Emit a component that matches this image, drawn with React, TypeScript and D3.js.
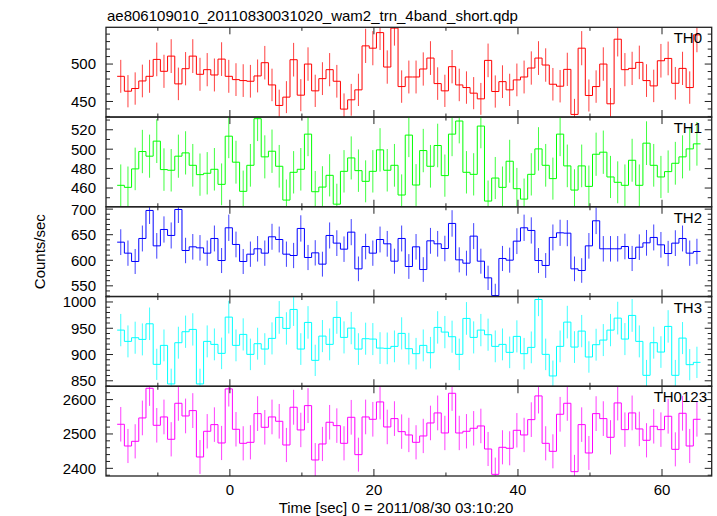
import React from 'react';
import * as d3 from 'd3';

const W = 717;
const H = 516;

// Time bins (1 s bins)
const BIN_START = -15.65;
const BIN_WIDTH = 1;
const X_DOMAIN = [-17.2, 66.9];
const X_TICK_LABELS = [0, 20, 40, 60];
const X_MINOR_STEP = 10;

const TITLE = 'ae806109010_20110830031020_wam2_trn_4band_short.qdp';
const X_LABEL = 'Time [sec] 0 = 2011/08/30 03:10:20';
const Y_LABEL = 'Counts/sec';

const PANEL_NAMES = ['TH0', 'TH1', 'TH2', 'TH3', 'TH0123'];
const PANEL_COLORS = ['#ff0000', '#00ff00', '#0000ff', '#00ffff', '#ff00ff'];

const th0 = [483.6, 463.7, 467.3, 477.4, 483.6, 506.2, 490.3, 510.6, 473.5, 493.8, 510.6, 486.3, 492.5, 485.4, 506.6, 483.6, 479.2, 477.9, 477.0, 484.1, 501.8, 472.1, 444.7, 455.8, 505.8, 458.4, 500.0, 464.2, 480.5, 492.5, 477.0, 439.8, 452.2, 465.5, 524.3, 521.2, 542.0, 496.0, 548.0, 469.9, 482.7, 482.7, 493.4, 508.0, 473.9, 464.2, 496.5, 472.1, 468.6, 461.1, 453.5, 504.9, 463.3, 476.5, 465.5, 478.8, 482.7, 494.7, 508.0, 498.7, 473.0, 470.4, 492.9, 432.7, 521.2, 458.0, 469.9, 500.0, 446.9, 533.2, 492.5, 494.2, 502.2, 477.9, 470.8, 504.4, 507.5, 474.3, 494.2, 468.6, 539.0];
const th1 = [462.8, 460.7, 479.7, 497.6, 492.8, 508.3, 479.0, 478.3, 492.8, 496.2, 483.4, 473.8, 475.2, 479.3, 463.8, 513.4, 486.6, 456.6, 483.4, 531.4, 492.1, 497.9, 482.4, 447.6, 476.2, 479.3, 515.5, 456.2, 461.0, 473.1, 443.4, 477.2, 491.0, 477.9, 466.9, 477.2, 499.3, 478.3, 483.4, 452.8, 514.5, 463.1, 498.6, 482.4, 503.8, 472.8, 515.5, 529.0, 476.2, 474.1, 523.8, 446.6, 470.3, 460.7, 487.6, 459.3, 448.6, 474.1, 500.3, 483.4, 469.7, 515.5, 482.8, 457.9, 482.8, 461.7, 494.8, 496.9, 471.4, 465.9, 462.8, 488.6, 462.8, 506.2, 483.4, 471.4, 476.9, 485.5, 492.1, 500.3, 505.5];
const th2 = [635.4, 613.9, 597.6, 642.6, 697.4, 628.2, 660.2, 648.5, 699.3, 619.1, 626.3, 624.3, 613.9, 642.6, 599.5, 663.5, 630.9, 597.6, 611.9, 622.4, 613.9, 645.9, 640.6, 611.9, 609.3, 662.2, 605.4, 614.5, 592.4, 648.5, 633.5, 621.7, 655.0, 583.2, 626.9, 613.9, 640.6, 632.2, 598.2, 642.6, 587.8, 626.3, 581.9, 638.0, 632.2, 623.0, 672.0, 600.8, 594.3, 647.2, 598.2, 565.6, 531.0, 603.5, 600.2, 637.4, 663.5, 658.3, 599.5, 589.8, 644.6, 653.7, 653.0, 583.2, 580.0, 628.2, 677.2, 622.4, 622.4, 622.4, 626.9, 603.5, 625.6, 634.1, 644.6, 630.2, 613.2, 633.5, 642.6, 613.9, 617.2];
const th3 = [946.5, 925.0, 932.0, 928.8, 958.5, 881.3, 917.4, 844.0, 922.5, 943.4, 947.8, 844.0, 925.0, 919.3, 902.2, 971.2, 917.4, 938.3, 900.3, 920.6, 910.4, 930.7, 970.6, 949.7, 985.8, 910.4, 961.1, 888.9, 935.1, 919.3, 970.6, 932.6, 950.3, 910.4, 930.1, 929.4, 912.3, 911.7, 915.5, 940.2, 911.1, 901.6, 917.4, 903.5, 951.6, 942.7, 933.9, 900.3, 968.7, 932.6, 946.5, 937.7, 915.5, 919.3, 904.1, 934.5, 901.6, 913.6, 1004.7, 900.3, 859.2, 915.5, 961.7, 914.2, 944.6, 895.3, 918.7, 927.5, 946.5, 969.3, 929.4, 974.4, 925.0, 860.4, 922.5, 904.7, 953.5, 860.4, 931.3, 880.7, 885.1];
const th0123 = [2528.2, 2465.0, 2478.6, 2546.6, 2633.0, 2525.2, 2549.5, 2484.5, 2589.3, 2552.4, 2568.0, 2433.0, 2507.8, 2527.2, 2473.8, 2631.1, 2513.6, 2472.8, 2475.7, 2559.2, 2519.4, 2549.5, 2536.9, 2467.9, 2577.7, 2511.7, 2582.5, 2424.3, 2470.9, 2534.0, 2524.3, 2472.8, 2548.5, 2439.8, 2549.5, 2542.7, 2593.2, 2520.4, 2544.7, 2506.8, 2497.1, 2475.7, 2494.2, 2532.0, 2561.2, 2502.9, 2618.4, 2502.9, 2507.8, 2516.5, 2523.3, 2456.3, 2382.5, 2461.2, 2458.3, 2510.7, 2497.1, 2541.7, 2610.7, 2472.8, 2449.5, 2557.3, 2589.3, 2390.3, 2527.2, 2444.7, 2559.2, 2544.7, 2490.3, 2590.3, 2512.6, 2561.2, 2514.6, 2481.6, 2522.3, 2512.6, 2551.5, 2455.3, 2560.2, 2465.0, 2542.7];

const SERIES = [th0, th1, th2, th3, th0123];
const Y_DOMAINS = [[429.2, 549.1], [440.7, 533.1], [529.1, 704.6], [839.6, 1010.4], [2377.7, 2638.8]];
const Y_TICK_LABELS = [[450, 500], [460, 480, 500, 520], [550, 600, 650, 700], [850, 900, 950, 1000], [2400, 2500, 2600]];
const Y_MINOR_STEP = [10, 10, 10, 10, 20];

const PLOT_LEFT = 106;
const PLOT_RIGHT = 711.7;
const PLOT_TOP = 27.3;
const PLOT_BOTTOM = 476;
const FONT = '"Liberation Sans", Arial, Helvetica, sans-serif';
const AXIS = '#222';

export default function App() {
  const x = d3.scaleLinear().domain(X_DOMAIN).range([PLOT_LEFT, PLOT_RIGHT]);
  const ph = (PLOT_BOTTOM - PLOT_TOP) / SERIES.length;
  const xMinor = d3.range(-10, 61, X_MINOR_STEP);

  return (
    <svg width={W} height={H} style={{ position: 'absolute', left: 0, top: 0, background: '#fff' }}
      xmlns="http://www.w3.org/2000/svg" fontFamily={FONT}>
      <rect x={0} y={0} width={W} height={H} fill="#fff" />
      <defs>
        {SERIES.map((_, p) => (
          <clipPath id={`clip${p}`} key={p}>
            <rect x={PLOT_LEFT} y={PLOT_TOP + p * ph} width={PLOT_RIGHT - PLOT_LEFT} height={ph} />
          </clipPath>
        ))}
      </defs>
      <text x={107} y={21} fontSize={15} fill="#000">{TITLE}</text>
      {SERIES.map((vals, p) => {
        const top = PLOT_TOP + p * ph;
        const bot = top + ph;
        const y = d3.scaleLinear().domain(Y_DOMAINS[p]).range([bot, top]);
        const pts: [number, number][] = vals.map((v, i) => [BIN_START + i * BIN_WIDTH, v]);
        pts.push([BIN_START + vals.length * BIN_WIDTH, vals[vals.length - 1]]);
        const line = d3.line<[number, number]>().x(d => x(d[0])).y(d => y(d[1])).curve(d3.curveStepAfter);
        const color = PANEL_COLORS[p];
        const [d0, d1] = Y_DOMAINS[p];
        const step = Y_MINOR_STEP[p];
        const yTicks = d3.range(Math.ceil(d0 / step) * step, d1, step);
        const majors = Y_TICK_LABELS[p];
        const majorStep = majors[1] - majors[0];
        return (
          <g key={p}>
            <g clipPath={`url(#clip${p})`}>
              {vals.map((v, i) => {
                const c = BIN_START + (i + 0.5) * BIN_WIDTH;
                const e = Math.sqrt(v * BIN_WIDTH) / BIN_WIDTH;
                return <line key={i} x1={x(c)} x2={x(c)} y1={y(v - e)} y2={y(v + e)} stroke={color} strokeWidth={1} strokeOpacity={0.75} />;
              })}
              <path d={line(pts) || ''} fill="none" stroke={color} strokeWidth={1} />
            </g>
            <rect x={PLOT_LEFT} y={top} width={PLOT_RIGHT - PLOT_LEFT} height={ph} fill="none" stroke={AXIS} strokeWidth={1.3} />
            {xMinor.map(t => {
              const len = t % 20 === 0 ? 7 : 3.5;
              return (
                <g key={t}>
                  <line x1={x(t)} x2={x(t)} y1={top} y2={top + len} stroke={AXIS} strokeWidth={1} />
                  <line x1={x(t)} x2={x(t)} y1={bot} y2={bot - len} stroke={AXIS} strokeWidth={1} />
                </g>
              );
            })}
            {yTicks.map(t => {
              const major = Math.abs(t / majorStep - Math.round(t / majorStep)) < 1e-6;
              const len = major ? 7 : 4;
              return (
                <g key={t}>
                  <line x1={PLOT_LEFT} x2={PLOT_LEFT + len} y1={y(t)} y2={y(t)} stroke={AXIS} strokeWidth={1} />
                  <line x1={PLOT_RIGHT} x2={PLOT_RIGHT - len} y1={y(t)} y2={y(t)} stroke={AXIS} strokeWidth={1} />
                </g>
              );
            })}
            {majors.map(t => (
              <text key={t} x={96} y={y(t)} dy="0.36em" textAnchor="end" fontSize={15} fill="#000">{t}</text>
            ))}
            <text x={p === 4 ? 707 : 702} y={top + 16} textAnchor="end" fontSize={15} fill="#000">{PANEL_NAMES[p]}</text>
          </g>
        );
      })}
      {X_TICK_LABELS.map(t => (
        <text key={t} x={x(t)} y={495} textAnchor="middle" fontSize={15} fill="#000">{t}</text>
      ))}
      <text x={396} y={513} textAnchor="middle" fontSize={15} fill="#000">{X_LABEL}</text>
      <text transform={`translate(45, ${(PLOT_TOP + PLOT_BOTTOM) / 2}) rotate(-90)`} textAnchor="middle" fontSize={15} fill="#000">{Y_LABEL}</text>
    </svg>
  );
}
